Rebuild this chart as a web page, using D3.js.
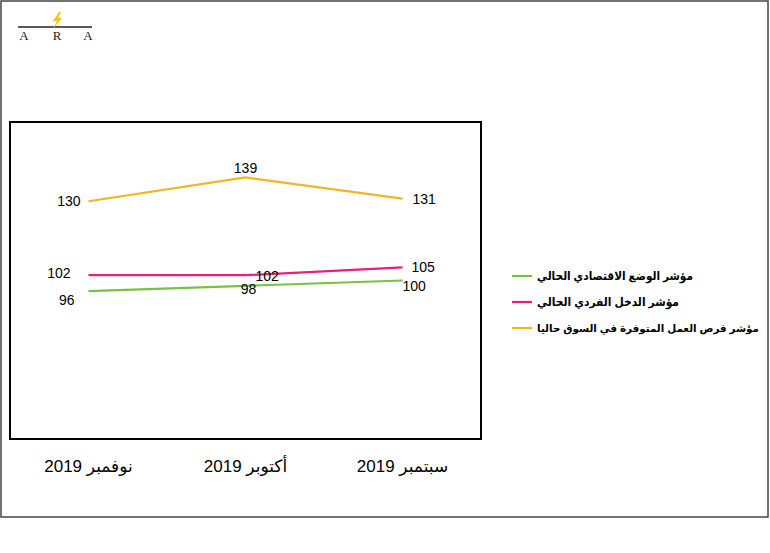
<!DOCTYPE html>
<html><head><meta charset="utf-8">
<script src="https://cdn.jsdelivr.net/npm/d3@7"></script>
<style>html,body{margin:0;padding:0;background:#fff}svg{display:block}</style>
</head><body>
<svg id="c" width="770" height="553"></svg>
<script>
const categories = ["نوفمبر 2019", "أكتوبر 2019", "سبتمبر 2019"];
const seriesNames = [
  "مؤشر الوضع الاقتصادي الحالي",
  "مؤشر الدخل الفردي الحالي",
  "مؤشر فرص العمل المتوفرة في السوق حاليا"
];
const economic = [96, 98, 100];
const income = [102, 102, 105];
const jobs = [130, 139, 131];
const colors = ["#7AC143", "#E6207C", "#F2B620"];
// label placement per series and point: [dx, dy, anchor]
const labelPos = [
  [[-14, 9, "end"], [3, 3, "middle"], [0, 6, "start"]],
  [[-18, -2, "end"], [10, 1, "start"], [9, 0, "start"]],
  [[-8, 0, "end"], [0, -9, "middle"], [10, 0, "start"]]
];
const legendWidths = [156, 142, 222];
const legendSizes = [11.5, 11.5, 10.5];

const svg = d3.select("#c");
const series = [economic, income, jobs];

// outer frame
svg.append("rect").attr("x", 1).attr("y", 1).attr("width", 767).attr("height", 516)
  .attr("fill", "none").attr("stroke", "#444").attr("stroke-width", 1.5);

// logo
const logo = svg.append("g");
logo.append("line").attr("x1", 18).attr("x2", 92).attr("y1", 27).attr("y2", 27)
  .attr("stroke", "#222").attr("stroke-width", 1.4);
logo.append("path").attr("d", "M59,12 L53,21 L57,21 L53,29 L62,18 L58,18 L61,12 Z").attr("fill", "#F5C518");
["A", "R", "A"].forEach((t, i) => {
  logo.append("text").attr("x", [24, 57, 88][i]).attr("y", 40).attr("text-anchor", "middle")
    .attr("font-family", "Liberation Serif, serif").attr("font-size", 13).attr("fill", "#222").text(t);
});

const plot = {x: 10, y: 122, w: 471, h: 317};
const x = d3.scaleBand().domain(categories).range([plot.x, plot.x + plot.w]);
const y = d3.scaleLinear().domain([40, 160]).range([plot.y + plot.h, plot.y]);

svg.append("rect").attr("x", plot.x).attr("y", plot.y).attr("width", plot.w).attr("height", plot.h)
  .attr("fill", "none").attr("stroke", "#000").attr("stroke-width", 2);

const line = d3.line().x((d, i) => x(categories[i]) + x.bandwidth() / 2).y(d => y(d));

series.forEach((s, si) => {
  svg.append("path").datum(s).attr("d", line).attr("fill", "none")
    .attr("stroke", colors[si]).attr("stroke-width", 2.2);
});
series.forEach((s, si) => {
  s.forEach((v, i) => {
    const p = labelPos[si][i];
    svg.append("text")
      .attr("x", x(categories[i]) + x.bandwidth() / 2 + p[0])
      .attr("y", y(v) + p[1])
      .attr("dy", "0.35em")
      .attr("text-anchor", p[2])
      .attr("font-family", "Liberation Sans, Arial, sans-serif").attr("font-size", 14)
      .attr("fill", "#000").text(v);
  });
});

// x axis labels (no axis line drawn)
const xAxis = d3.axisBottom(x).tickSize(0).tickPadding(0);
const ax = svg.append("g").attr("transform", `translate(0,${plot.y + plot.h + 27})`).call(xAxis);
ax.select(".domain").remove();
ax.selectAll("text").attr("font-family", "Liberation Sans, Arial, DejaVu Sans, sans-serif")
  .attr("font-size", 17).attr("fill", "#000").attr("direction", "rtl").attr("dy", "0.35em")
  .attr("unicode-bidi", "embed");

// legend
const leg = svg.append("g");
const legY = [276, 302, 328];
seriesNames.forEach((n, i) => {
  leg.append("line").attr("x1", 512).attr("x2", 532).attr("y1", legY[i]).attr("y2", legY[i])
    .attr("stroke", colors[i]).attr("stroke-width", 2.2);
  leg.append("text").attr("x", 537).attr("y", legY[i]).attr("dy", "0.35em")
    .attr("text-anchor", "start").attr("direction", "ltr")
    .attr("textLength", legendWidths[i]).attr("lengthAdjust", "spacingAndGlyphs")
    .attr("font-family", "Liberation Sans, Arial, DejaVu Sans, sans-serif").attr("font-weight", "bold")
    .attr("font-size", legendSizes[i]).attr("fill", "#000").text(n);
});
</script>
</body></html>
